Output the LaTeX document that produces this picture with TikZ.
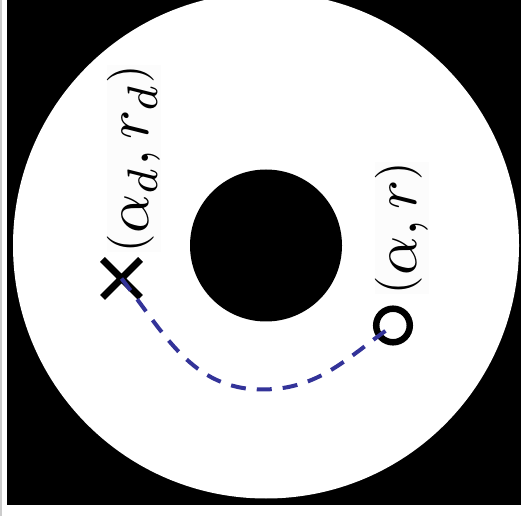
\documentclass[tikz,border=0pt]{standalone}
\usetikzlibrary{shapes.misc}
\definecolor{pathblue}{RGB}{51,51,153}
\newcommand{\lpar}{\raisebox{0.1em}{\scalebox{0.77}{(}}}
\newcommand{\rpar}{\raisebox{0.1em}{\scalebox{0.77}{)}}}
\newcommand{\biglabel}[1]{\scalebox{6.1}{#1}}

\begin{document}
\begin{tikzpicture}[x=1pt, y=1pt,
  marker/.style={draw=black, inner sep=0pt, line width=6.5pt},
  coordlabel/.style={rotate=90, inner sep=0pt, fill=black!1}]

\useasboundingbox (0,0) rectangle (521,516);
\fill[white] (0,0) rectangle (521,516);
\draw[black!20, line width=2pt] (1,0) -- (1,516);

% black field with the disc
\fill[black] (7,11) rectangle (521,516);
\begin{scope}
  \clip (7,11) rectangle (521,516);
  \fill[white] (266,270.5) circle (253);
\end{scope}
\fill[black] (266,270.5) circle (76);

% markers
\node[marker, cross out, minimum size=31pt, line width=7pt] (dest) at (121.5,237.5) {};
\node[marker, circle, minimum size=33.6pt] (pos) at (393,190.5) {};
\coordinate (low) at (262,126.5);

\draw[pathblue, line width=4pt, dash pattern=on 15pt off 11pt]
  (dest.center) to[out=-52,in=180] (low) to[out=0,in=215] (pos.center);

% labels
\node[coordlabel] (destlabel) at (134,357.5) {\biglabel{$\lpar\alpha_d, r_d\rpar$}};
\node[coordlabel] (poslabel) at (402,288) {\biglabel{$\lpar\alpha, r\rpar$}};

\end{tikzpicture}
\end{document}
